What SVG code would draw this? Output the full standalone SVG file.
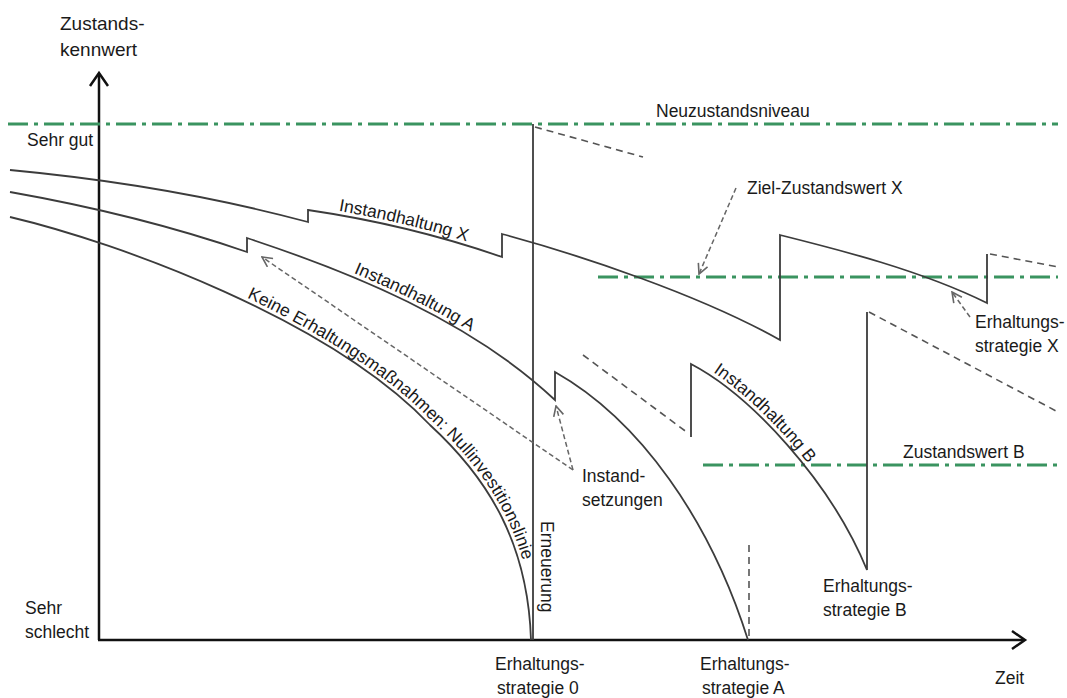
<svg xmlns="http://www.w3.org/2000/svg" width="1067" height="698" viewBox="0 0 1067 698">
<style>
text{font-family:"Liberation Sans",Arial,sans-serif;font-size:17.5px;fill:#1a1a1a}
.ax{fill:none;stroke:#111;stroke-width:2.5}
.cv{fill:none;stroke:#3c3c3c;stroke-width:1.8;stroke-linejoin:miter}
.dsh{fill:none;stroke:#555;stroke-width:1.6;stroke-dasharray:7 5}
.grn{fill:none;stroke:#3a9460;stroke-width:3.2;stroke-dasharray:20 6 4 6}
.ann{fill:none;stroke:#666;stroke-width:1.5;stroke-dasharray:5 3}
.ah{fill:none;stroke:#666;stroke-width:1.6}
</style>
<defs>
<marker id="open" viewBox="0 0 12 12" refX="11" refY="6" markerWidth="12" markerHeight="12" markerUnits="userSpaceOnUse" orient="auto">
<path d="M1,1 L11,6 L1,11" fill="none" stroke="#666" stroke-width="1.6"/>
</marker>
<path id="p0" d="M10,217 C120,243 330,320 430,425 C490,480 528,545 531,640"/>
<path id="pA" d="M247,238 C350,272 470,320 555,400"/>
<path id="pX" d="M308,210 Q410,225 502,257"/>
<path id="pB" d="M692,364 C750,395 830,480 867,570"/>
</defs>

<g id="axes">
<path class="ax" d="M99,640 L99,74"/>
<path class="ax" d="M90,86 L99,73 L108,86"/>
<path class="ax" d="M98,640 L1024,640"/>
<path class="ax" d="M1012,631 L1025,640 L1012,649"/>
<text x="60" y="30" style="font-size:19px">Zustands-</text>
<text x="60" y="56" style="font-size:19px">kennwert</text>
<text x="27" y="146">Sehr gut</text>
<text x="25" y="614">Sehr</text>
<text x="25" y="638">schlecht</text>
<text x="995" y="684">Zeit</text>
</g>

<g id="levels">
<path class="grn" d="M8,124 L1058,124"/>
<path class="grn" d="M598,277 L1058,277"/>
<path class="grn" d="M703,465 L1058,465"/>
<text x="656" y="117">Neuzustandsniveau</text>
<text x="903" y="458">Zustandswert B</text>
</g>

<g id="connectors">
<path id="curve0" class="cv" d="M10,217 C120,243 330,320 430,425 C490,480 528,545 531,640"/>
<path id="curveA" class="cv" d="M10,192 Q140,215 247,252 L247,238 C350,272 470,320 555,400 L555,372 C640,420 710,520 748,640"/>
<path id="curveX" class="cv" d="M10,170 Q170,185 308,222 L308,210 Q410,225 502,257 L502,234 C580,255 700,295 780,340 L780,235 C840,250 920,270 987,303 L987,254"/>
<path id="curveB" class="cv" d="M691,437 L691,364 C750,395 830,480 867,570 L867,312"/>
<path id="renewal" class="cv" d="M533,640 L533,124"/>
<path class="dsh" d="M535,127 L643,157"/>
<path class="dsh" d="M990,254 L1058,267"/>
<path class="dsh" d="M583,355 L688,433"/>
<path class="dsh" d="M869,312 L1058,412"/>
<path class="dsh" d="M749,545 L749,640"/>
<path class="ann" d="M736,188 L699,274" marker-end="url(#open)"/>
<path class="ann" d="M970,317 L952,292" marker-end="url(#open)"/>
<path class="ann" d="M573,470 L556,406" marker-end="url(#open)"/>
<path class="ann" d="M573,470 L262,257" marker-end="url(#open)"/>
</g>

<g id="curve-labels">
<text dy="-4"><textPath href="#pX" startOffset="30">Instandhaltung X</textPath></text>
<text dy="-4"><textPath href="#pA" startOffset="112">Instandhaltung A</textPath></text>
<text dy="-4"><textPath href="#pB" startOffset="22">Instandhaltung B</textPath></text>
<text dy="-4"><textPath href="#p0" startOffset="250">Keine Erhaltungsmaßnahmen: Nullinvestitionslinie</textPath></text>
<text transform="translate(541,521) rotate(90)">Erneuerung</text>
</g>

<g id="notes">
<text x="747" y="194">Ziel-Zustandswert X</text>
<text x="975" y="328">Erhaltungs-</text>
<text x="975" y="352">strategie X</text>
<text x="582" y="482">Instand-</text>
<text x="582" y="506">setzungen</text>
<text x="823" y="592">Erhaltungs-</text>
<text x="823" y="616">strategie B</text>
<text x="495" y="670">Erhaltungs-</text>
<text x="497" y="694">strategie 0</text>
<text x="700" y="670">Erhaltungs-</text>
<text x="702" y="694">strategie A</text>
</g>
</svg>
